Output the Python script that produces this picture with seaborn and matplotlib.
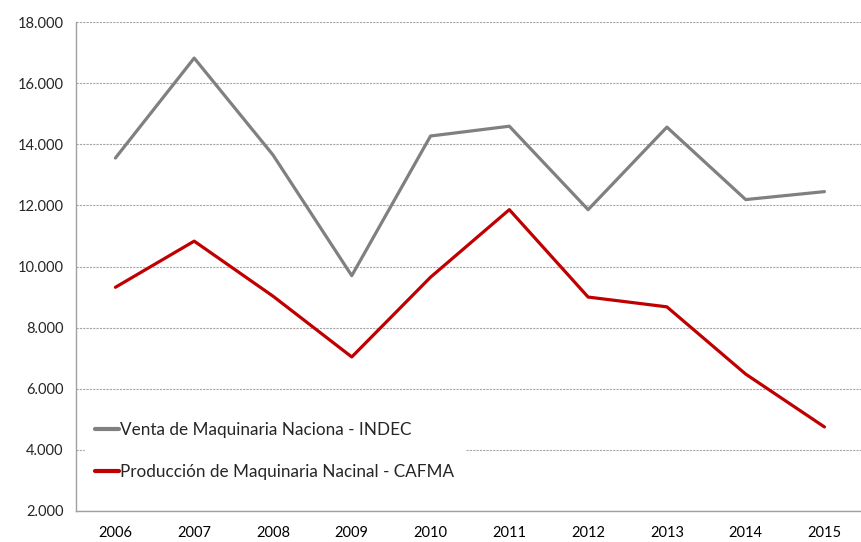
import pandas as pd
import matplotlib.pyplot as plt
import matplotlib.ticker as mticker
import seaborn as sns

# Data
years = [2006, 2007, 2008, 2009, 2010, 2011, 2012, 2013, 2014, 2015]
venta_indec = [13550, 16820, 13650, 9700, 14270, 14590, 11860, 14560, 12190, 12450]
produccion_cafma = [9320, 10830, 9030, 7040, 9650, 11860, 9000, 8680, 6480, 4750]

serie_venta = 'Venta de Maquinaria Naciona - INDEC'
serie_prod = 'Producción de Maquinaria Nacinal - CAFMA'

df = pd.DataFrame({
    'pos': list(range(len(years))) * 2,
    'valor': venta_indec + produccion_cafma,
    'serie': [serie_venta] * len(years) + [serie_prod] * len(years),
})

sns.set_style('white')
plt.rcParams['font.family'] = ['Lato', 'DejaVu Sans']

fig = plt.figure(figsize=(8.61, 5.42), dpi=100)
ax = fig.add_axes([0.0883, 0.0572, 0.915, 0.9022])

sns.lineplot(data=df, x='pos', y='valor', hue='serie', ax=ax,
             palette={serie_venta: '#808080', serie_prod: '#C00000'},
             linewidth=2.3, legend=True)

ax.set_xlim(-0.5, 9.5)
ax.set_ylim(2000, 18000)
ax.set_yticks(range(2000, 18001, 2000))
ax.yaxis.set_major_formatter(mticker.FuncFormatter(lambda v, p: f'{int(v):,}'.replace(',', '.')))
ax.set_xticks(range(len(years)))
ax.set_xticklabels([str(y) for y in years])
ax.set_xticks([i - 0.5 for i in range(len(years) + 1)], minor=True)
ax.tick_params(axis='x', which='major', length=0, pad=11, labelsize=10.5, colors='black')
ax.tick_params(axis='x', which='minor', length=5, color='#a0a0a0', width=1, direction='out')
ax.tick_params(axis='y', length=5, color='#a0a0a0', width=1, direction='out', labelsize=10.5, pad=4)
ax.set_xlabel('')
ax.set_ylabel('')

ax.grid(axis='y', linestyle=(0, (2, 1)), color='#a6a6a6', linewidth=0.8)
ax.set_axisbelow(True)
for side in ['top', 'right']:
    ax.spines[side].set_visible(False)
for side in ['left', 'bottom']:
    ax.spines[side].set_color('#a0a0a0')
    ax.spines[side].set_linewidth(1)

leg = ax.legend(loc='lower left', bbox_to_anchor=(0.0, 0.025), frameon=True,
                fontsize=12.3, handlelength=1.4, handletextpad=0.1,
                labelspacing=1.55, borderpad=0.6)
leg.get_frame().set_facecolor('white')
leg.get_frame().set_edgecolor('white')
leg.get_frame().set_alpha(1)
for line in leg.get_lines():
    line.set_linewidth(3)

fig.savefig('out.png', dpi=100)
